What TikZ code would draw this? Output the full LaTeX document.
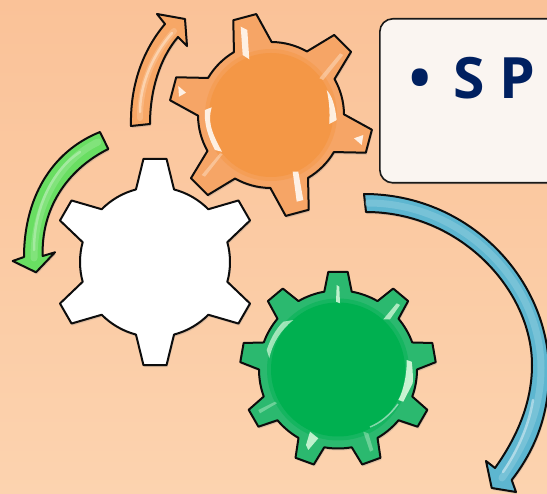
\documentclass[tikz,border=0pt]{standalone}
\usepackage{fontspec}
\setsansfont{Open Sans}
\usetikzlibrary{shadows}

\definecolor{navytext}{HTML}{002060}
\definecolor{orangemain}{HTML}{F49746}
\definecolor{orangerim}{HTML}{F6A566}
\definecolor{greenmain}{HTML}{00B050}
\definecolor{greenrim}{HTML}{2BB96F}
\definecolor{limemain}{HTML}{69DE62}
\definecolor{bluemain}{HTML}{5DB6D0}
\definecolor{paneltop}{HTML}{FAC298}
\definecolor{panelbottom}{HTML}{FCD3AF}
\definecolor{boxfill}{HTML}{FAF5F1}
\definecolor{arrowfill}{HTML}{F7A766}

% options, first angle, step, body radius, tip radius, half base angle, half tip angle, teeth
\newcommand{\gearshape}[8]{%
    \draw[#1] (#2-#6:#4) \foreach \k [evaluate=\k as \a using #2+(\k-1)*#3] in {1,...,#8} {
        -- (\a-#6:#4) -- (\a-#7:#5) -- (\a+#7:#5) -- (\a+#6:#4)
        arc[start angle=\a+#6, end angle=\a+#3-#6, radius=#4]
    } -- cycle;
}

\tikzset{
    gearline/.style={draw=black!95, line width=2pt, line join=round,
        drop shadow={opacity=0.25, shadow xshift=1pt, shadow yshift=-2pt}},
    shine/.style={fill=#1, draw=none},
    glow/.style={line cap=round, draw=#1},
    infobox/.style={draw=black!90, line width=1.6pt, fill=boxfill, rounded corners=13pt,
        minimum width=300pt, minimum height=164pt, anchor=north west, inner sep=0pt,
        drop shadow={opacity=0.2, shadow xshift=0pt, shadow yshift=-1.5pt}},
    infotext/.style={font=\sffamily\bfseries\fontsize{57}{57}\selectfont, text=navytext,
        anchor=west, inner sep=0pt}
}

\begin{document}
\begin{tikzpicture}[x=1pt,y=-1pt]
    \useasboundingbox (0,0) rectangle (547,494);
    \clip (0,0) rectangle (547,494);
    \shade[top color=paneltop, bottom color=panelbottom] (0,0) rectangle (547,494);

    % White gear
    \begin{scope}[shift={(155,262)}]
        \gearshape{gearline, fill=white}{-90}{60}{75}{103.7}{14.7}{6.4}{6}
    \end{scope}

    % Orange gear
    \begin{scope}[shift={(271,115)}]
        \gearshape{gearline, fill=orangerim}{-105}{60}{73}{102}{15.5}{6.7}{6}
        \fill[orangemain!50!orangerim] (0,0) circle (66);
        \fill[orangemain] (0,0) circle (62);
    \end{scope}
    \fill[shine=orange!5!white, opacity=0.9] (240.7,26.7) -- (247.3,30) -- (249.3,59.3) -- (242.7,55) -- cycle;
    \fill[shine=orange!5!white, opacity=0.9] (326.7,90) .. controls (332,96) and (335,105) .. (336.7,120) -- (329.3,124) .. controls (330,110) and (329,100) .. cycle;
    \fill[shine=orange!5!white, opacity=0.9] (205,110) -- (211.7,107.3) .. controls (208,120) and (210,130) .. (222,151.7) -- (215,150) .. controls (207,135) and (204,122) .. cycle;
    \fill[shine=orange!5!white, opacity=0.9] (292.7,171.7) -- (298.3,171.7) -- (303.3,200) -- (296.7,201.7) -- cycle;
    \fill[shine=orange!5!white, opacity=0.9] (178.3,86) -- (186,92.7) -- (179,96.7) -- cycle;
    \fill[shine=orange!5!white, opacity=0.9] (354,138.3) -- (363.3,135) -- (361.7,145) -- cycle;
    \fill[shine=orange!5!white, opacity=0.35] (319.3,78.3) -- (340,53.3) -- (343.3,55) -- (323.3,80) -- cycle;
    \fill[shine=orange!5!white, opacity=0.35] (201.7,175) -- (220,153.3) -- (222.7,154) -- (205,176.7) -- cycle;

    % Green gear
    \begin{scope}[shift={(338,369.5)}]
        \gearshape{gearline, fill=greenrim}{-90}{40}{79}{98}{10}{5.7}{9}
        \fill[greenmain!50!greenrim] (0,0) circle (71);
        \fill[greenmain] (0,0) circle (67);
    \end{scope}
    \fill[shine=green!10!white, opacity=0.65] (293.3,320) -- (283.3,321.7) .. controls (275,330) and (270,340) .. (266.7,350) -- (269.3,358.3) .. controls (273,342) and (281,330) .. cycle;
    \fill[shine=green!10!white, opacity=0.85] (406.7,360) -- (411.7,361.7) .. controls (413,372) and (413,378) .. (412.7,383.3) -- (403.3,401.7) -- (398.3,400) .. controls (403,392) and (407,375) .. cycle;
    \fill[shine=green!10!white, opacity=0.8] (336.7,285) -- (339.3,286.7) -- (340,303.3) -- (336,301.7) -- cycle;
    \fill[shine=green!10!white, opacity=0.7] (383.3,319.3) -- (396.7,303.3) -- (400,305) -- (390,319.3) -- cycle;
    \fill[shine=green!10!white, opacity=0.8] (310,431.7) -- (318.3,438.3) -- (308.3,450) -- (306,445) -- cycle;
    \fill[shine=green!10!white, opacity=0.35] (363.3,431.7) -- (368.3,433.3) -- (373.3,450) -- (370,451.7) -- cycle;
    \fill[shine=green!10!white, opacity=0.35] (258.3,410) -- (275,401.7) -- (277,403.3) -- (260,413.3) -- cycle;
    \draw[white, opacity=0.5, line width=1.5pt] (398,404) .. controls (390,415) and (380,423) .. (370,427);

    % Orange arrow
    \draw[gearline, fill=arrowfill]
        (131,126) .. controls (130,85) and (143,50) .. (165,24) -- (157,14) -- (185,19) -- (187,46) -- (178,37)
        .. controls (160,58) and (150,90) .. (150,124) -- cycle;
    \draw[glow=orange!20!white, line width=6pt, opacity=0.25] (140,118) .. controls (140,88) and (150,58) .. (174,31);
    \draw[glow=orange!20!white, line width=2.5pt, opacity=0.6] (140,112) .. controls (140,88) and (150,58) .. (172,33);

    % Green arrow
    \draw[gearline, fill=limemain]
        (100,132) .. controls (50,152) and (24,200) .. (24,257) -- (12.7,261) -- (36,272.3) -- (55,252.3) -- (42.7,256)
        .. controls (41,210) and (66,170) .. (108.3,149) -- cycle;
    \draw[glow=limemain!45!white, line width=7pt, opacity=0.3] (98,142) .. controls (60,160) and (34,205) .. (34,258);
    \draw[glow=limemain!45!white, line width=2.5pt, opacity=0.6] (80,152) .. controls (55,168) and (34,205) .. (34,250);

    % Blue arrow
    \draw[gearline, fill=bluemain]
        (364,194) .. controls (470,194) and (549,280) .. (549,372) .. controls (549,415) and (535,450) .. (511.7,480)
        -- (516,492) -- (491.7,488) -- (486,461) -- (495,468)
        .. controls (515,440) and (532,405) .. (532,365) .. controls (532,290) and (460,212) .. (366,212) -- cycle;
    \draw[glow=bluemain!45!white, line width=7pt, opacity=0.3] (368,203) .. controls (465,203) and (541,285) .. (541,368) .. controls (541,410) and (525,445) .. (502,478);
    \draw[glow=bluemain!35!white, line width=2.5pt, opacity=0.7] (533,400) .. controls (529,425) and (518,450) .. (503,472);

    % Text box
    \node[infobox] (spbox) at (379,18) {};
    \node[infotext] (splabel) at (409,78) {•\hspace{8pt} S P};
\end{tikzpicture}
\end{document}
